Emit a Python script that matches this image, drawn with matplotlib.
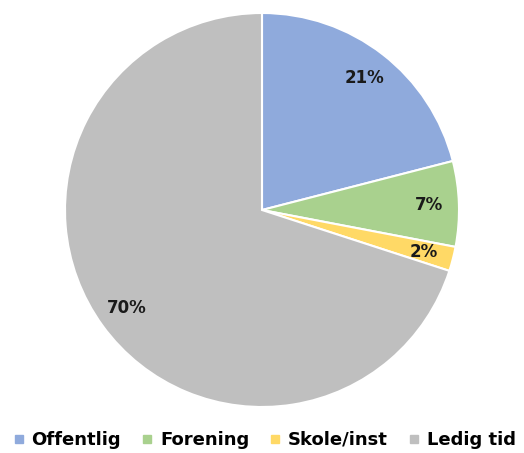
import matplotlib.pyplot as plt
from matplotlib.lines import Line2D

labels = ['Offentlig', 'Forening', 'Skole/inst', 'Ledig tid']
values = [21, 7, 2, 70]
colors = ['#8FAADC', '#A9D18E', '#FFD966', '#BFBFBF']

fig = plt.figure(figsize=(5.24, 4.53), dpi=100)
cx, cy, r = 262, 210, 197
ax = fig.add_axes([(cx - r) / 524, (453 - cy - r) / 453, 2 * r / 524, 2 * r / 453])

wedges, texts, autotexts = ax.pie(values, colors=colors, startangle=90, counterclock=False,
                                  autopct='%d%%', pctdistance=0.85,
                                  wedgeprops=dict(edgecolor='white', linewidth=1.5),
                                  textprops=dict(fontsize=12, fontweight='bold', color='#1a1a1a'))
ax.set_xlim(-1, 1)
ax.set_ylim(-1, 1)
ax.set_aspect('equal')

handles = [Line2D([], [], marker='s', linestyle='', markersize=6, color=c) for c in colors]
fig.legend(handles, labels, loc='center', bbox_to_anchor=(0.505, 1 - 440 / 453), ncol=4,
           frameon=False, handlelength=0.6, handletextpad=0.4, columnspacing=1.15,
           prop=dict(size=13, weight='bold'))

fig.savefig('out.png', dpi=100)
